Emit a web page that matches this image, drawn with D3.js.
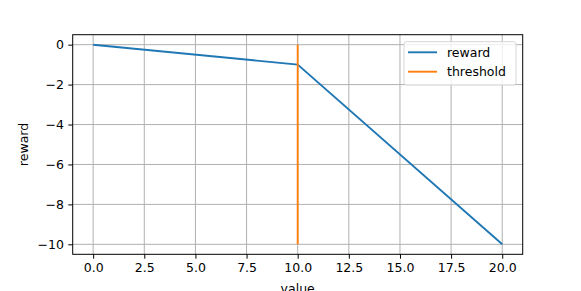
<!DOCTYPE html>
<head>
    <meta charset="utf-8">
    <style>
        body { margin: 0; padding: 0; background: #fff; }
        svg { font-family: "DejaVu Sans", sans-serif; }
        .grid line { stroke: #b0b0b0; stroke-width: 1; }
    </style>
    <script src="https://d3js.org/d3.v7.min.js"></script>
</head>
<body>
    <svg width="581" height="291"></svg>
    <script>
        // data
        var rewardX = [0, 10, 20];
        var rewardY = [0, -1, -10];
        var thresholdX = [10, 10];
        var thresholdY = [0, -10];
        var xTicks = [0, 2.5, 5, 7.5, 10, 12.5, 15, 17.5, 20];
        var yTicks = [0, -2, -4, -6, -8, -10];
        var seriesNames = ["reward", "threshold"];
        var colors = ["#1f77b4", "#ff7f0e"];

        var svg = d3.select("svg");
        var mLeft = 72.7, mRight = 522.7, mTop = 34.7, mBottom = 254.3;
        var fs = 12.5;

        var x = d3.scaleLinear().domain([-1, 21]).range([mLeft, mRight]);
        var y = d3.scaleLinear().domain([-10.5, 0.5]).range([mBottom, mTop]);

        // grid
        var grid = svg.append("g").attr("class", "grid");
        grid.selectAll(".gx").data(xTicks).enter().append("line")
            .attr("x1", d => x(d)).attr("x2", d => x(d))
            .attr("y1", mTop).attr("y2", mBottom);
        grid.selectAll(".gy").data(yTicks).enter().append("line")
            .attr("y1", d => y(d)).attr("y2", d => y(d))
            .attr("x1", mLeft).attr("x2", mRight);

        // lines
        var line = d3.line().x(d => x(d[0])).y(d => y(d[1]));
        svg.append("path")
            .datum(d3.zip(rewardX, rewardY))
            .attr("d", line).attr("fill", "none")
            .attr("stroke", colors[0]).attr("stroke-width", 1.9);
        svg.append("path")
            .datum(d3.zip(thresholdX, thresholdY))
            .attr("d", line).attr("fill", "none")
            .attr("stroke", colors[1]).attr("stroke-width", 1.9);

        // axes
        var minus = s => s.replace("-", "\u2212");
        var xAxis = d3.axisBottom(x).tickValues(xTicks).tickSize(4.4).tickPadding(4.4)
            .tickFormat(d => d3.format(".1f")(d));
        var yAxis = d3.axisLeft(y).tickValues(yTicks).tickSize(4.4).tickPadding(4.4)
            .tickFormat(d => minus(String(d)));
        [svg.append("g").attr("transform", "translate(0," + mBottom + ")").call(xAxis),
         svg.append("g").attr("transform", "translate(" + mLeft + ",0)").call(yAxis)]
            .forEach(function (g) {
                g.attr("font-family", null).attr("font-size", null);
                g.select(".domain").remove();
                g.selectAll("line").attr("stroke", "#000").attr("stroke-width", 1);
                g.selectAll("text").attr("font-size", fs).attr("fill", "#000");
            });

        // frame
        svg.append("rect")
            .attr("x", mLeft).attr("y", mTop)
            .attr("width", mRight - mLeft).attr("height", mBottom - mTop)
            .attr("fill", "none").attr("stroke", "#000").attr("stroke-width", 1);

        // labels (x label is cut by the bottom edge, as in the original)
        svg.append("text").attr("x", (mLeft + mRight) / 2).attr("y", 293)
            .attr("text-anchor", "middle").attr("font-size", fs).text("value");
        svg.append("text")
            .attr("transform", "translate(27.5," + ((mTop + mBottom) / 2) + ") rotate(-90)")
            .attr("text-anchor", "middle").attr("font-size", fs).text("reward");

        // legend
        var lg = svg.append("g").attr("transform", "translate(404,41.7)");
        lg.append("rect").attr("width", 112).attr("height", 43.3).attr("rx", 2.5)
            .attr("fill", "#fff").attr("fill-opacity", 0.8)
            .attr("stroke", "#d6d6d6").attr("stroke-width", 1);
        seriesNames.forEach(function (name, i) {
            var yy = 10.6 + i * 19.4;
            lg.append("line").attr("x1", 4).attr("x2", 33).attr("y1", yy).attr("y2", yy)
                .attr("stroke", colors[i]).attr("stroke-width", 1.9);
            lg.append("text").attr("x", 43).attr("y", yy + 4.5)
                .attr("font-size", fs).text(name);
        });
    </script>
</body>
</html>
